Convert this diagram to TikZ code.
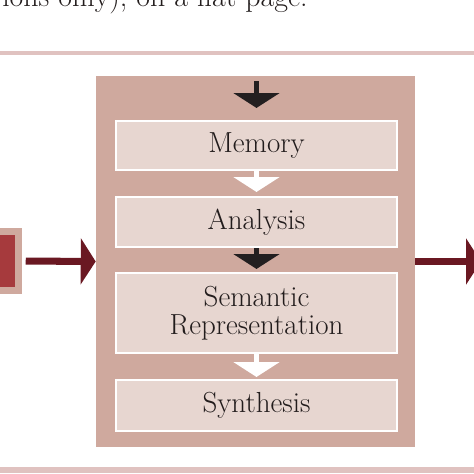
\documentclass[tikz,border=0pt]{standalone}
\usetikzlibrary{arrows.meta}
\definecolor{ink}{RGB}{34,28,28}
\definecolor{tan}{RGB}{207,169,158}
\definecolor{stagefill}{RGB}{231,214,208}
\definecolor{srcred}{RGB}{166,58,61}
\definecolor{maroon}{RGB}{106,24,34}
\definecolor{rulepink}{RGB}{224,194,192}
\definecolor{darkarrow}{RGB}{35,31,32}
\begin{document}
\begin{tikzpicture}[x=0.02cm,y=-0.02cm,
  stage/.style={rectangle,fill=stagefill,draw=white,line width=1.2pt,minimum width=5.62cm,text=ink,font=\fontsize{16.5}{16}\selectfont,align=center},
  flow/.style={line width=3.4pt,-{Triangle[width=26pt,length=8.5pt]}},
  link/.style={maroon,line width=4pt,-{Triangle[width=26pt,length=8.5pt]}}]
\useasboundingbox (0,0) rectangle (474,474);
\clip (0,0) rectangle (474,474);

\node[anchor=base east,inner sep=0pt,text=ink,font=\fontsize{17}{18}\selectfont] (caption) at (308,6) {ions only), on a flat page.};
\draw[rulepink,line width=2.5pt] (0,53) -- (474,53);
\draw[rulepink,line width=3pt] (0,470) -- (474,470);

\node[fill=tan,inner sep=0pt,minimum width=6.38cm,minimum height=7.42cm] (system) at (255.5,261.5) {};
\node[stage,minimum height=0.98cm] (memory) at (256.5,145.5) {Memory};
\node[stage,minimum height=1.0cm] (analysis) at (256.5,222) {Analysis};
\node[stage,minimum height=1.6cm] (semantic) at (256.5,313) {Semantic\\Representation};
\node[stage,minimum height=1.02cm] (synthesis) at (256.5,405.5) {Synthesis};

\node[fill=srcred,draw=tan,line width=0.14cm,inner sep=0pt,minimum width=1.18cm,minimum height=1.18cm] (source) at (-10.75,261) {};
\coordinate (entry) at (256.5,81);
\coordinate (exit) at (481,261.5);

\draw[flow,darkarrow,shorten >=0.24cm] (entry) -- (memory.north);
\draw[flow,white,shorten >=0.08cm] (memory.south) -- (analysis.north);
\draw[flow,darkarrow,shorten >=0.06cm] (analysis.south) -- (semantic.north);
\draw[flow,white,shorten >=0.04cm] (semantic.south) -- (synthesis.north);

\draw[link,shorten <=0.07cm] (source.east) -- (system.west);
\draw[link] (system.east) -- (exit);
\end{tikzpicture}
\end{document}
